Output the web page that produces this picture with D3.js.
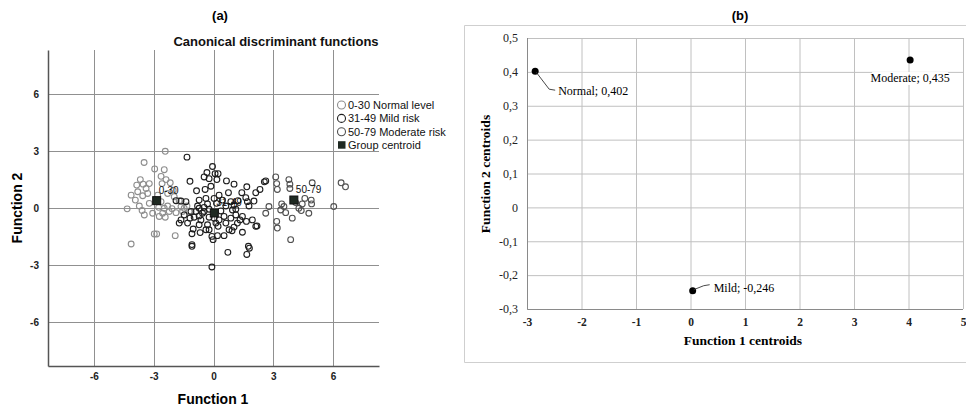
<!DOCTYPE html>
<html>
<head>
<meta charset="utf-8">
<script src="https://cdn.jsdelivr.net/npm/d3@7"></script>
</head>
<body style="margin:0">
<svg id="chart" width="966" height="409"></svg>
<script>
// ---- data (a): canonical discriminant scores ----
const normalPts = [
  [-2.42,3.00],[-3.48,2.41],[-2.95,2.07],[-2.47,2.03],[-3.67,1.51],[-3.53,1.27],[-3.85,1.22],
  [-3.22,1.30],[-2.63,1.68],[-2.38,1.51],[-2.17,1.34],[-2.58,1.30],[-4.13,0.69],[-3.92,0.43],
  [-3.55,0.66],[-3.30,0.78],[-4.33,-0.03],[-3.72,0.12],[-3.58,-0.12],[-3.47,-0.35],[-3.22,0.26],
  [-2.63,0.35],[-2.47,0.00],[-2.30,0.12],[-2.22,-0.17],[-2.72,-0.43],[-2.42,-0.47],[-3.05,-0.26],
  [-2.08,-0.02],[-4.13,-1.88],[-2.97,-1.35],[-2.85,-1.35],[-1.92,-1.44],[-1.97,0.61],[-1.72,0.40],
  [-1.63,0.09],[-1.55,-0.17],[-1.88,-0.23],[-2.80,0.69],[-3.38,1.04],[-3.80,0.87],[-2.30,0.78],
  [-2.02,0.95],[-2.75,0.05],[-1.33,0.12],[-1.22,-0.17],[-1.47,0.00],[-2.55,-0.26]
];
const mildPts = [
  [-1.33,2.69],[-0.05,2.20],[-0.33,1.88],[0.08,1.82],[0.23,1.82],[-0.47,1.65],[-0.22,1.56],
  [0.17,1.51],[-1.18,1.42],[-0.85,0.92],[-0.42,0.99],[-0.13,1.16],[0.65,1.44],[1.03,1.27],
  [1.42,0.82],[1.67,1.13],[1.23,0.40],[0.75,0.82],[0.28,0.69],[0.62,0.12],[0.95,-0.09],
  [1.12,-0.05],[1.62,0.56],[1.70,0.35],[2.03,0.38],[2.12,0.82],[2.33,0.99],[2.55,1.39],
  [2.62,1.44],[1.95,-0.61],[2.12,-0.95],[1.65,-0.69],[1.45,-0.43],[1.33,-0.61],[1.20,-0.78],
  [1.03,-0.99],[0.78,-1.13],[0.53,-1.44],[0.20,-1.44],[-0.02,-1.65],[-0.08,-1.48],[-0.38,-1.13],
  [-0.30,-0.87],[-0.63,-0.61],[-0.72,-0.40],[-0.97,-0.47],[-1.18,-0.52],[-1.47,-0.35],[-1.63,-0.61],
  [-1.72,-0.78],[-1.02,-1.09],[-1.08,-1.34],[-1.08,-1.91],[-1.08,-2.00],[0.72,-2.32],[1.75,-2.00],
  [1.67,-2.43],[-0.08,-3.09],[-0.72,0.00],[-0.47,0.05],[-0.30,0.23],[0.37,-0.14],[0.53,-0.43],
  [0.12,-0.78],[0.23,-0.95],[-1.38,0.35],[-1.63,0.38],[-1.88,0.40],[-0.38,0.52],[-0.72,0.43],
  [-0.80,0.12],[-0.55,-0.26],[-0.22,-0.47],[0.03,-0.52],[0.28,-0.61],[-0.47,-0.17],[-0.88,-0.17],
  [0.87,0.35],[1.03,0.17],[0.45,0.43],[0.03,0.52],[0.15,0.26],[-0.22,-0.05],[-1.13,-0.17],
  [-1.30,-0.78],[-0.72,-0.87],[0.62,-0.78],[0.87,-0.52],[1.12,-0.35],[1.78,0.12],[-0.22,-1.13],
  [2.18,-0.93],[0.93,-1.18],[1.45,-1.26],[-0.67,-1.28],[1.80,-2.10]
];
const moderatePts = [
  [3.12,1.65],[3.17,1.30],[3.20,0.99],[3.78,1.51],[3.83,1.27],[3.83,1.04],[4.95,1.34],
  [4.90,0.43],[4.92,0.23],[4.28,0.00],[4.40,-0.12],[4.78,-0.26],[3.42,0.23],[3.53,0.09],
  [3.62,-0.23],[3.95,-0.52],[3.17,-0.69],[3.20,-1.04],[3.87,-1.65],[6.03,0.09],[6.40,1.34],
  [6.62,1.13],[2.78,0.09],[2.62,-0.26],[4.45,0.23],[4.12,0.30],[3.37,-0.09],[4.58,0.52]
];
const groupNames = ["0-30", "31-49", "50-79"];
const legendLabels = ["0-30 Normal level", "31-49 Mild risk", "50-79 Moderate risk", "Group centroid"];
const centroidF1 = [-2.85, 0.04, 4.03];
const centroidF2 = [0.402, -0.246, 0.435];
const ticksA = [-6, -3, 0, 3, 6];

// ---- data (b) ----
const centroidNames = ["Normal", "Mild", "Moderate"];
const ticksBx = [-3, -2, -1, 0, 1, 2, 3, 4, 5];
const ticksBy = [-0.3, -0.2, -0.1, 0, 0.1, 0.2, 0.3, 0.4, 0.5];

const svg = d3.select("#chart");
const groupColors = ["#8e8e8e", "#1e1e1e", "#505050"];
const crisp = v => Math.round(v) + 0.5;

// ================= panel (b) frame and grid =================
const xB = d3.scaleLinear().domain([-3, 5]).range([527, 963]);
const yB = d3.scaleLinear().domain([-0.3, 0.5]).range([309, 38]);
const comma = d => d === 0 ? "0" : String(d).replace(".", ",");

svg.append("path").attr("d", "M975,25.5 H464.5 V362.5 H975")
  .attr("fill", "none").attr("stroke", "#cfcfcf").attr("stroke-width", 1);

const gridB = svg.append("g");
gridB.append("g").attr("transform", "translate(0,309)")
  .call(d3.axisBottom(xB).tickValues(ticksBx).tickSize(-271).tickFormat(""))
  .call(g => g.select(".domain").remove())
  .call(g => g.selectAll(".tick line").attr("stroke", "#c0c0c0"));
gridB.append("g").attr("transform", "translate(527,0)")
  .call(d3.axisLeft(yB).tickValues(ticksBy).tickSize(-436).tickFormat(""))
  .call(g => g.select(".domain").remove())
  .call(g => g.selectAll(".tick line").attr("stroke", "#c0c0c0"));
gridB.append("path").attr("d", "M527.5,38 V309.5 H963")
  .attr("fill", "none").attr("stroke", "#8a8a8a");

// ================= panel (a) =================
const xA = d3.scaleLinear().domain([-8.3, 8.3]).range([48, 379]);
const yA = d3.scaleLinear().domain([-8.3, 8.33]).range([366, 50]);

svg.append("text").attr("x", 220).attr("y", 20).attr("text-anchor", "middle")
  .style("font", "bold 13px Arial, 'Liberation Sans', sans-serif").text("(a)");
svg.append("text").attr("x", 276).attr("y", 46).attr("text-anchor", "middle")
  .style("font", "bold 13px Arial, 'Liberation Sans', sans-serif").attr("fill", "#111")
  .text("Canonical discriminant functions");

const gA = svg.append("g");
ticksA.forEach(t => {
  gA.append("line").attr("x1", crisp(xA(t))).attr("x2", crisp(xA(t))).attr("y1", 50).attr("y2", 366)
    .attr("stroke", "#909090");
  gA.append("line").attr("x1", 48).attr("x2", 379).attr("y1", crisp(yA(t))).attr("y2", crisp(yA(t)))
    .attr("stroke", "#909090");
});

const axA_x = gA.append("g").attr("transform", "translate(0,366)")
  .call(d3.axisBottom(xA).tickValues(ticksA).tickSize(0).tickPadding(7).tickFormat(d => String(d)));
const axA_y = gA.append("g").attr("transform", "translate(48,0)")
  .call(d3.axisLeft(yA).tickValues(ticksA).tickSize(0).tickPadding(9).tickFormat(d => String(d)));
[axA_x, axA_y].forEach(ax => {
  ax.select(".domain").attr("stroke", "#555").attr("stroke-width", 1.5);
  ax.selectAll("text").style("font", "bold 10px Arial, 'Liberation Sans', sans-serif").attr("fill", "#222");
});

svg.append("text").attr("x", 213).attr("y", 404).attr("text-anchor", "middle")
  .style("font", "bold 14px Arial, 'Liberation Sans', sans-serif").text("Function 1");
svg.append("text").attr("transform", "translate(22,208) rotate(-90)").attr("text-anchor", "middle")
  .style("font", "bold 14px Arial, 'Liberation Sans', sans-serif").text("Function 2");

[normalPts, mildPts, moderatePts].forEach((pts, i) => {
  gA.selectAll(".p" + i).data(pts).enter().append("circle")
    .attr("cx", d => xA(d[0])).attr("cy", d => yA(d[1])).attr("r", 2.9)
    .attr("fill", "none").attr("stroke", groupColors[i]).attr("stroke-width", 1.1);
});

gA.selectAll(".cen").data(groupNames).enter().append("rect")
  .attr("x", (d, i) => xA(centroidF1[i]) - 4).attr("y", (d, i) => yA(centroidF2[i]) - 4)
  .attr("width", 8).attr("height", 8).attr("fill", "#1f2a22").attr("stroke", "#111");
gA.selectAll(".cenlab").data(groupNames).enter().append("text")
  .attr("x", (d, i) => xA(centroidF1[i]) + 2).attr("y", (d, i) => yA(centroidF2[i]) - 7)
  .style("font", "10px Arial, 'Liberation Sans', sans-serif").attr("fill", "#111").text(d => d);

const leg = svg.append("g");
legendLabels.forEach((name, i) => {
  const y = 105 + i * 13.4;
  if (i < 3) {
    leg.append("circle").attr("cx", 341.5).attr("cy", y).attr("r", 4)
      .attr("fill", "#fff").attr("stroke", groupColors[i]).attr("stroke-width", 1.1);
  } else {
    leg.append("rect").attr("x", 338).attr("y", y - 4).attr("width", 7.5).attr("height", 7.5)
      .attr("fill", "#1f2a22");
  }
  leg.append("text").attr("x", 348).attr("y", y + 4)
    .style("font", "11px Arial, 'Liberation Sans', sans-serif").attr("fill", "#111").text(name);
});

// ================= panel (b) text and marks =================
svg.append("text").attr("x", 740).attr("y", 20).attr("text-anchor", "middle")
  .style("font", "bold 13px Arial, 'Liberation Sans', sans-serif").text("(b)");

const gB = svg.append("g");
const axB_x = gB.append("g").attr("transform", "translate(0,309)")
  .call(d3.axisBottom(xB).tickValues(ticksBx).tickSize(0).tickPadding(9).tickFormat(d => String(d)));
const axB_y = gB.append("g").attr("transform", "translate(527,0)")
  .call(d3.axisLeft(yB).tickValues(ticksBy).tickSize(0).tickPadding(9).tickFormat(comma));
axB_x.select(".domain").remove();
axB_y.select(".domain").remove();
axB_x.selectAll("text").style("font", "bold 11.5px 'Times New Roman', 'Liberation Serif', serif").attr("fill", "#222");
axB_y.selectAll("text").style("font", "12px 'Times New Roman', 'Liberation Serif', serif").attr("fill", "#222");

svg.append("text").attr("x", 743).attr("y", 345).attr("text-anchor", "middle")
  .style("font", "bold 13.5px 'Times New Roman', 'Liberation Serif', serif").text("Function 1 centroids");
svg.append("text").attr("transform", "translate(490,174) rotate(-90)").attr("text-anchor", "middle")
  .style("font", "bold 13.5px 'Times New Roman', 'Liberation Serif', serif").text("Function 2 centroids");

gB.selectAll(".dot").data(centroidNames).enter().append("circle")
  .attr("cx", (d, i) => xB(centroidF1[i])).attr("cy", (d, i) => yB(centroidF2[i])).attr("r", 3.5)
  .attr("fill", "#000");

const labFont = "12px 'Times New Roman', 'Liberation Serif', serif";
const lab = i => centroidNames[i] + "; " + comma(centroidF2[i]);
{
  const px = xB(centroidF1[0]), py = yB(centroidF2[0]);
  gB.append("path").attr("d", `M${px + 1},${py + 1} L${px + 14},${py + 18} L${px + 20},${py + 19}`)
    .attr("fill", "none").attr("stroke", "#333").attr("stroke-width", 0.9);
  gB.append("text").attr("x", px + 23).attr("y", py + 24).style("font", labFont).text(lab(0));
}
{
  const px = xB(centroidF1[1]), py = yB(centroidF2[1]);
  gB.append("path").attr("d", `M${px + 1},${py - 1} L${px + 11},${py - 5} L${px + 17},${py - 6}`)
    .attr("fill", "none").attr("stroke", "#333").attr("stroke-width", 0.9);
  gB.append("text").attr("x", px + 21).attr("y", py + 1).style("font", labFont).text(lab(1));
}
{
  const px = xB(centroidF1[2]), py = yB(centroidF2[2]);
  gB.append("rect").attr("x", px - 38).attr("y", py + 12).attr("width", 76).attr("height", 13)
    .attr("fill", "#fff");
  gB.append("text").attr("x", px).attr("y", py + 22).attr("text-anchor", "middle")
    .style("font", labFont).text(lab(2));
}
</script>
</body>
</html>
